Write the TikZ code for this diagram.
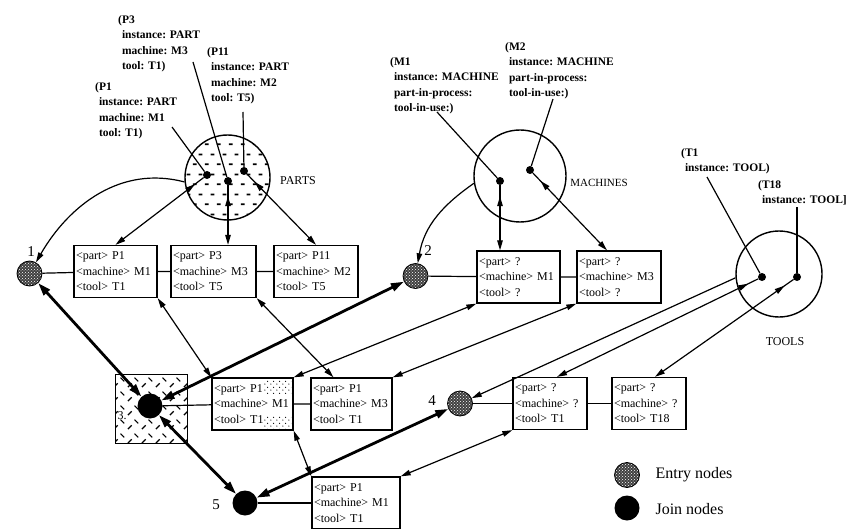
\documentclass[tikz,border=0pt]{standalone}
\usepackage{fontspec}
\setmainfont{Liberation Serif}
\usepackage{tikz}
\usetikzlibrary{arrows.meta,patterns,decorations.markings}
% fill patterns of the scanned figure
\pgfdeclarepatternformonly{partdash}{\pgfpointorigin}{\pgfpoint{12pt}{20pt}}{\pgfpoint{12pt}{20pt}}{%
  \pgfsetlinewidth{1.8pt}%
  \pgfpathmoveto{\pgfpoint{1pt}{5pt}}\pgfpathlineto{\pgfpoint{5pt}{5pt}}%
  \pgfpathmoveto{\pgfpoint{7pt}{15pt}}\pgfpathlineto{\pgfpoint{11pt}{15pt}}%
  \pgfusepath{stroke}}
\pgfdeclarepatternformonly{joinhatch}{\pgfpointorigin}{\pgfpoint{14pt}{14pt}}{\pgfpoint{14pt}{14pt}}{%
  \pgfsetlinewidth{1.2pt}%
  \pgfpathmoveto{\pgfpoint{2pt}{2pt}}\pgfpathlineto{\pgfpoint{6pt}{6pt}}%
  \pgfpathmoveto{\pgfpoint{9pt}{12pt}}\pgfpathlineto{\pgfpoint{13pt}{8pt}}%
  \pgfusepath{stroke}}
\pgfdeclarepatternformonly{sparsedots}{\pgfpointorigin}{\pgfpoint{6pt}{6pt}}{\pgfpoint{6pt}{6pt}}{%
  \pgfpathcircle{\pgfpoint{1pt}{1pt}}{0.7pt}%
  \pgfpathcircle{\pgfpoint{4pt}{4pt}}{0.7pt}%
  \pgfusepath{fill}}
\newcommand{\ind}{\phantom{(}}

\begin{document}
\begin{tikzpicture}[x=1pt, y=1pt,
  pl/.style={draw, circle, line width=1.4pt, inner sep=0pt},
  tok/.style={fill, circle, inner sep=0pt, minimum size=8pt},
  entrynode/.style={circle, draw, line width=0.8pt, inner sep=0pt, minimum size=25pt,
    preaction={fill=black!75}, pattern=crosshatch dots, pattern color=white},
  joinnode/.style={circle, fill, inner sep=0pt, minimum size=25pt},
  tbox/.style={draw, line width=1.3pt, inner sep=2pt, text width=#1, minimum height=52pt,
    align=left, font=\fontsize{12}{15.5}\selectfont},
  tbox/.default=79pt,
  lab/.style={align=left, inner sep=0pt, anchor=north west, font=\bfseries\fontsize{11.5}{15.5}\selectfont},
  num/.style={font=\fontsize{15}{15}\selectfont},
  conn/.style={line width=1.2pt, -{Triangle[length=10pt,width=5.5pt]}},
  both/.style={line width=1.2pt, {Triangle[length=10pt,width=5.5pt]}-{Triangle[length=10pt,width=5.5pt]}},
  heavy/.style={line width=2.8pt, {Triangle[length=13pt,width=8pt]}-{Triangle[length=13pt,width=8pt]}},
  backtip/.style={postaction={decorate}, decoration={markings,
    mark=at position #1 with {\arrowreversed{Triangle[length=10pt,width=5.5pt]}}}},
  backtip/.default=11pt]
  \useasboundingbox (0,0) rectangle (850,-529);

  % places and their tokens
  \node[pl, minimum size=85pt, pattern=partdash] (parts) at (227.5,-177.5) {};
  \node[pl, minimum size=92pt] (machines) at (520,-176) {};
  \node[pl, minimum size=86pt] (tools) at (779,-274) {};
  \node[font=\fontsize{12}{12}\selectfont] (partsname) at (298,-181) {PARTS};
  \node[font=\fontsize{11}{11}\selectfont] (machname) at (599,-183) {MACHINES};
  \node[font=\fontsize{12}{12}\selectfont] (toolsname) at (785,-342) {TOOLS};
  \node[tok] (tp1) at (207,-175) {};
  \node[tok] (tp3) at (228,-181) {};
  \node[tok] (tp11) at (244,-171) {};
  \node[tok] (tm1) at (500,-181) {};
  \node[tok] (tm2) at (530,-170) {};
  \node[tok] (tt1) at (762,-277) {};
  \node[tok] (tt18) at (797,-277) {};

  % token descriptions
  \node[lab] (lp3) at (118,-15) {(P3\\\ind instance: PART\\\ind machine: M3\\\ind tool: T1)};
  \node[lab] (lp11) at (207,-47) {(P11\\\ind instance: PART\\\ind machine: M2\\\ind tool: T5)};
  \node[lab] (lp1) at (95,-82) {(P1\\\ind instance: PART\\\ind machine: M1\\\ind tool: T1)};
  \node[lab] (lm1) at (390,-57) {(M1\\\ind instance: MACHINE\\\ind part-in-process:\\\ind tool-in-use:)};
  \node[lab] (lm2) at (505,-42) {(M2\\\ind instance: MACHINE\\\ind part-in-process:\\\ind tool-in-use:)};
  \node[lab] (lt1) at (681,-148) {(T1\\\ind instance: TOOL)};
  \node[lab] (lt18) at (758,-180) {(T18\\\ind instance: TOOL]};
  \coordinate (p1tail) at (172,-127);
  \coordinate (p3tail) at (193,-62);
  \coordinate (p11tail) at (243,-112);
  \coordinate (m1tail) at (437,-112);
  \coordinate (m2tail) at (553,-99);
  \coordinate (t1tail) at (707,-177);
  \coordinate (t18tail) at (797,-207);
  \foreach \a/\b in {p1tail/tp1, p3tail/tp3, p11tail/tp11, m1tail/tm1, m2tail/tm2, t1tail/tt1, t18tail/tt18}
    \draw[line width=1.2pt] (\a) -- (\b);

  % join node 3 sits in a hatched square
  \draw[line width=1pt, pattern=joinhatch] (115,-374) rectangle (187,-443);
  \node[font=\fontsize{12}{12}\selectfont] (three) at (122,-416) {3.};

  % entry and join nodes
  \node[entrynode] (n1) at (29.5,-273.5) {};
  \node[entrynode] (n2) at (415.5,-276) {};
  \node[joinnode] (n3) at (150,-406) {};
  \node[entrynode] (n4) at (460,-403.5) {};
  \node[joinnode] (n5) at (245,-503) {};
  \node[num] (l1) at (31,-252) {1};
  \node[num] (l2) at (428,-251) {2};
  \node[num] (l4) at (432,-401) {4};
  \node[num] (l5) at (216,-505) {5};

  % token records
  \node[tbox] (b1) at (115.5,-271.5) {<part> P1\\<machine> M1\\<tool> T1};
  \node[tbox=81pt] (b2) at (213.5,-271.5) {<part> P3\\<machine> M3\\<tool> T5};
  \node[tbox=80pt] (b3) at (316,-271.5) {<part> P11\\<machine> M2\\<tool> T5};
  \node[tbox] (b4) at (518.5,-277) {<part> ?\\<machine> M1\\<tool> ?};
  \node[tbox=80pt] (b5) at (619,-277) {<part> ?\\<machine> M3\\<tool> ?};
  \node[tbox=77pt] (b6) at (252.5,-404) {<part> P1\\<machine> M1\\<tool> T1};
  \node[tbox=77pt] (b7) at (351.5,-404) {<part> P1\\<machine> M3\\<tool> T1};
  \node[tbox=70pt] (b8) at (550,-403.5) {<part> ?\\<machine> ?\\<tool> T1};
  \node[tbox=70pt] (b9) at (649,-403.5) {<part> ?\\<machine> ?\\<tool> T18};
  \node[tbox=84pt] (b10) at (356,-503) {<part> P1\\<machine> M1\\<tool> T1};
  \fill[pattern=sparsedots] (263,-380) rectangle (291,-393);
  \fill[pattern=sparsedots] (263,-416) rectangle (291,-428);

  % rows
  \draw[line width=1.2pt] (n1) -- (b1) -- (b2) -- (b3);
  \draw[line width=1.2pt] (n2) -- (b4) -- (b5);
  \draw[line width=1.2pt] (n3) -- (b6) -- (b7);
  \draw[line width=1.2pt] (n4) -- (b8) -- (b9);
  \draw[line width=1.2pt] (n5) -- (b10);

  % places to entry nodes
  \draw[conn] (parts.186) to[out=165, in=60] (n1);
  \draw[conn] (machines.189) to[out=215, in=80] (n2);
  \draw[conn] (tools.185) -- (n4);

  % tokens to records
  \draw[conn, backtip] (tp1) -- (b1.north);
  \draw[conn, backtip] (tp3) -- (tp3 |- b2.north);
  \draw[conn, backtip] (tp11) -- (b3.north);
  \draw[conn, backtip] (tm1) -- (tm1 |- b4.north);
  \draw[conn, backtip] (tm2) -- ([xshift=-12pt]b5.north);
  \draw[conn, backtip] (tt1) -- ([xshift=7pt]b8.north);
  \draw[conn, backtip] (tt18) -- ([xshift=6pt]b9.north);

  % records to records
  \draw[both] (b1.south east) -- (b6.north west);
  \draw[both] (b2.south east) -- ([xshift=-18pt]b7.north);
  \draw[both] (b6.north east) -- (b4.south west);
  \draw[both] (b7.north east) -- (b5.south west);
  \draw[both] (b6.south east) -- (b10.north west);
  \draw[both] (b10.north east) -- (b8.south west);

  % entry and join nodes
  \draw[heavy] (n1) -- (n3);
  \draw[heavy] (n3) -- (n2);
  \draw[heavy] (n3) -- (n5);
  \draw[heavy] (n5) -- (n4);

  % legend
  \node[entrynode] (keyentry) at (627,-475) {};
  \node[joinnode] (keyjoin) at (627,-508) {};
  \node[anchor=west, font=\fontsize{16}{16}\selectfont] (keyentrytext) at (652,-475) {Entry nodes};
  \node[anchor=west, font=\fontsize{16}{16}\selectfont] (keyjointext) at (652,-509) {Join nodes};
\end{tikzpicture}
\end{document}
